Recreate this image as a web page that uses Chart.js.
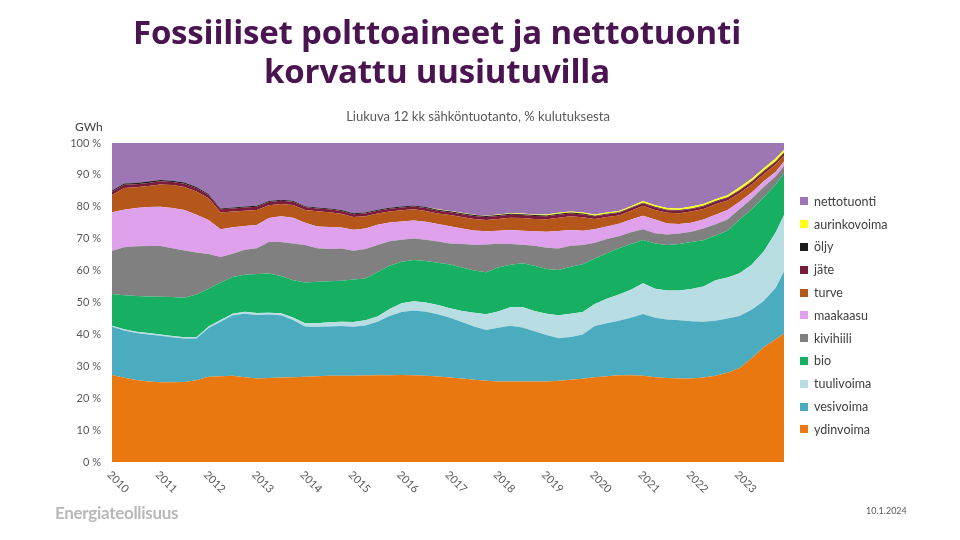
<!DOCTYPE html>
<html>
<head>
<meta charset="utf-8">
<script src="https://cdn.jsdelivr.net/npm/chart.js@4.4.1/dist/chart.umd.min.js"></script>
<style>
  html, body { margin: 0; padding: 0; background: #fff; }
  body { width: 960px; height: 540px; position: relative; overflow: hidden; font-family: Lato, "Open Sans", sans-serif; }
  #wrap { position: absolute; left: 0; top: 0; width: 960px; height: 540px; }
  .title { position: absolute; left: 0; width: 874px; top: 12px; text-align: center; color: #4a1450; font-family: "Open Sans", sans-serif; font-weight: 700; font-size: 33px; line-height: 39px; letter-spacing: -0.2px; }
  .subtitle { position: absolute; left: 0; width: 956px; top: 108px; text-align: center; color: #595959; font-size: 13px; }
  .unit { position: absolute; left: 75px; top: 119px; color: #404040; font-size: 12px; }
  .legend { position: absolute; left: 800px; top: 190px; }
  .legend div { height: 22.8px; font-size: 12.5px; color: #404040; display: flex; align-items: center; }
  .legend span { display: inline-block; width: 8px; height: 8px; margin-right: 6px; }
  .logo { position: absolute; left: 55px; top: 502px; color: #b8b8b8; font-weight: 700; font-size: 17px; letter-spacing: -0.3px; }
  .date { position: absolute; left: 866px; top: 505px; color: #595959; font-size: 9px; }
</style>
</head>
<body>
<div id="wrap"><canvas id="chart" width="960" height="540"></canvas></div>
<div class="title">Fossiiliset polttoaineet ja nettotuonti<br>korvattu uusiutuvilla</div>
<div class="subtitle">Liukuva 12 kk sähköntuotanto, % kulutuksesta</div>
<div class="unit">GWh</div>
<div class="legend" id="legend"></div>
<div class="logo">Energiateollisuus</div>
<div class="date">10.1.2024</div>
<script>
// neljännesvuosittaiset pisteet, % kulutuksesta
const aika = [
  2010, 2010.25, 2010.5, 2010.75, 2011, 2011.25, 2011.5, 2011.75,
  2012, 2012.25, 2012.5, 2012.75, 2013, 2013.25, 2013.5, 2013.75,
  2014, 2014.25, 2014.5, 2014.75, 2015, 2015.25, 2015.5, 2015.75,
  2016, 2016.25, 2016.5, 2016.75, 2017, 2017.25, 2017.5, 2017.75,
  2018, 2018.25, 2018.5, 2018.75, 2019, 2019.25, 2019.5, 2019.75,
  2020, 2020.25, 2020.5, 2020.75, 2021, 2021.25, 2021.5, 2021.75,
  2022, 2022.25, 2022.5, 2022.75, 2023, 2023.25, 2023.5, 2023.75, 2023.92
];
const vuodet = [2010, 2011, 2012, 2013, 2014, 2015, 2016, 2017, 2018, 2019, 2020, 2021, 2022, 2023];
const yTicks = [0, 10, 20, 30, 40, 50, 60, 70, 80, 90, 100];

const ydinvoima = [27.3, 26.4, 25.7, 25.2, 25.0, 25.0, 25.1, 25.6, 26.7, 26.9, 27.0, 26.6, 26.2, 26.3, 26.5, 26.6,
  26.7, 26.9, 27.0, 27.0, 27.0, 27.1, 27.2, 27.2, 27.3, 27.2, 27.0, 26.8, 26.5, 26.2, 25.8, 25.5,
  25.2, 25.2, 25.2, 25.2, 25.2, 25.5, 25.8, 26.1, 26.6, 26.9, 27.2, 27.2, 27.0, 26.6, 26.3, 26.2,
  26.2, 26.5, 27.0, 28.0, 29.5, 32.5, 36.0, 38.5, 40.3];
const vesivoima = [15.1, 14.8, 14.7, 14.8, 14.6, 14.1, 13.6, 13.1, 15.3, 17.1, 19.0, 19.9, 19.9, 19.9, 19.5, 17.9,
  15.8, 15.4, 15.5, 15.6, 15.4, 15.7, 16.8, 18.6, 19.7, 20.3, 20.1, 19.5, 18.7, 17.7, 16.7, 15.9,
  16.9, 17.5, 17.0, 15.8, 14.6, 13.3, 13.4, 13.9, 16.0, 16.6, 17.1, 18.0, 19.4, 18.6, 18.4, 18.2,
  17.9, 17.5, 17.3, 17.0, 16.3, 15.2, 14.5, 16.1, 19.4];
const tuulivoima = [0.3, 0.4, 0.4, 0.4, 0.4, 0.4, 0.4, 0.4, 0.5, 0.5, 0.5, 0.6, 0.6, 0.6, 0.6, 0.8,
  1.0, 1.2, 1.3, 1.4, 1.5, 1.6, 1.6, 2.2, 2.8, 2.9, 2.9, 2.9, 3.0, 3.4, 4.3, 4.9,
  5.1, 5.8, 6.4, 6.3, 6.7, 7.2, 7.3, 7.0, 6.9, 7.7, 8.2, 8.8, 9.6, 9.1, 9.1, 9.4,
  10.1, 11.0, 12.7, 12.8, 13.4, 14.1, 15.5, 17.4, 17.7];
const bio = [10.0, 10.7, 11.2, 11.5, 11.8, 12.2, 12.4, 13.4, 11.8, 11.8, 11.5, 11.6, 12.2, 12.3, 11.7, 11.7,
  12.8, 13.0, 12.9, 12.8, 13.3, 13.1, 14.0, 13.5, 13.0, 12.9, 13.0, 13.3, 13.7, 13.7, 13.2, 13.2,
  13.8, 13.3, 13.7, 14.2, 14.0, 14.2, 14.7, 15.0, 14.3, 14.2, 14.5, 14.3, 13.6, 14.2, 14.2, 14.5,
  14.8, 14.5, 14.0, 14.7, 16.8, 17.4, 17.0, 15.0, 13.1];
const kivihiili = [13.5, 15.0, 15.6, 15.8, 15.9, 15.3, 14.8, 13.2, 10.9, 8.0, 7.3, 7.8, 8.1, 9.9, 10.7, 11.5,
  11.7, 10.5, 10.1, 10.1, 9.0, 9.3, 8.4, 7.7, 6.9, 6.8, 6.7, 6.6, 6.6, 7.3, 8.1, 8.7,
  7.4, 6.5, 5.8, 6.3, 6.7, 6.7, 6.6, 6.0, 4.9, 4.5, 3.8, 3.7, 3.4, 3.2, 3.3, 3.3,
  3.2, 3.7, 3.5, 3.5, 3.3, 3.3, 3.2, 2.6, 2.3];
const maakaasu = [12.1, 11.8, 12.0, 12.2, 12.3, 12.6, 12.7, 11.8, 10.7, 8.7, 8.3, 7.5, 7.3, 7.5, 8.0, 8.1,
  7.0, 6.8, 6.9, 6.6, 6.6, 6.4, 6.4, 5.9, 5.7, 5.6, 5.6, 5.5, 5.4, 4.9, 4.5, 4.1,
  4.1, 4.4, 4.4, 4.5, 5.0, 5.5, 4.9, 4.5, 4.3, 3.9, 3.9, 4.0, 4.2, 4.3, 3.5, 3.0,
  2.8, 2.8, 3.0, 3.0, 2.3, 2.0, 1.8, 1.4, 1.4];
const turve = [5.4, 6.8, 6.5, 6.6, 7.0, 7.2, 7.2, 7.3, 6.8, 5.2, 4.9, 4.8, 4.7, 4.0, 3.9, 4.0,
  4.0, 4.8, 4.6, 4.3, 4.0, 3.8, 3.5, 3.4, 3.5, 3.5, 3.4, 3.3, 3.5, 3.6, 3.6, 3.6,
  3.7, 3.9, 4.0, 3.9, 3.9, 4.2, 4.3, 4.2, 3.2, 3.0, 2.6, 2.8, 3.1, 3.0, 3.3, 3.4,
  3.5, 3.3, 3.3, 3.0, 2.7, 2.5, 2.3, 2.3, 1.8];
const jate = [1.0, 1.0, 1.0, 1.0, 1.0, 1.0, 1.0, 1.0, 1.0, 1.0, 1.0, 1.0, 1.0, 1.0, 1.0, 1.0,
  0.9, 0.9, 0.9, 0.9, 0.9, 0.9, 0.9, 0.9, 0.9, 0.9, 0.9, 0.9, 0.9, 0.9, 0.9, 0.9,
  0.9, 0.9, 0.9, 0.9, 0.9, 0.9, 0.9, 0.9, 0.8, 0.8, 0.8, 0.8, 0.8, 0.8, 0.8, 0.8,
  0.8, 0.8, 0.8, 0.8, 0.8, 0.8, 0.8, 0.8, 0.8];
const oljy = [0.4, 0.4, 0.4, 0.4, 0.4, 0.4, 0.4, 0.4, 0.3, 0.3, 0.3, 0.3, 0.3, 0.3, 0.3, 0.3,
  0.3, 0.3, 0.3, 0.3, 0.3, 0.3, 0.3, 0.3, 0.3, 0.3, 0.3, 0.3, 0.3, 0.3, 0.3, 0.3,
  0.3, 0.3, 0.3, 0.3, 0.3, 0.3, 0.3, 0.3, 0.2, 0.2, 0.2, 0.2, 0.2, 0.2, 0.2, 0.2,
  0.2, 0.2, 0.2, 0.2, 0.2, 0.2, 0.2, 0.2, 0.2];
const aurinkovoima = [0, 0, 0, 0, 0, 0, 0, 0, 0, 0, 0, 0, 0, 0, 0, 0,
  0, 0, 0, 0, 0, 0, 0, 0, 0, 0, 0, 0.1, 0.1, 0.1, 0.1, 0.1,
  0.2, 0.2, 0.2, 0.2, 0.3, 0.3, 0.3, 0.3, 0.4, 0.4, 0.4, 0.4, 0.5, 0.5, 0.5, 0.5,
  0.6, 0.6, 0.6, 0.6, 0.8, 0.8, 0.8, 0.9, 0.9];
const nettotuonti = [14.9, 12.7, 12.5, 12.1, 11.6, 11.8, 12.4, 13.8, 16.0, 20.5, 20.2, 19.9, 19.7, 18.2, 17.8, 18.1,
  19.8, 20.2, 20.5, 21.0, 22.0, 21.8, 20.9, 20.3, 19.9, 19.6, 20.1, 20.8, 21.3, 21.9, 22.5, 22.8,
  22.4, 22.0, 22.1, 22.4, 22.4, 21.9, 21.5, 21.8, 22.4, 21.8, 21.3, 19.8, 18.2, 19.5, 20.4, 20.5,
  19.9, 19.1, 17.6, 16.4, 13.9, 11.2, 7.9, 4.8, 2.1];

// alhaalta ylös
const sarjat = [
  { nimi: 'ydinvoima', data: ydinvoima, vari: '#e8780f' },
  { nimi: 'vesivoima', data: vesivoima, vari: '#4bacbf' },
  { nimi: 'tuulivoima', data: tuulivoima, vari: '#b8dde2' },
  { nimi: 'bio', data: bio, vari: '#17b062' },
  { nimi: 'kivihiili', data: kivihiili, vari: '#808080' },
  { nimi: 'maakaasu', data: maakaasu, vari: '#dfa0ec' },
  { nimi: 'turve', data: turve, vari: '#b5561b' },
  { nimi: 'jäte', data: jate, vari: '#7a1a3c' },
  { nimi: 'öljy', data: oljy, vari: '#1c1c1c' },
  { nimi: 'aurinkovoima', data: aurinkovoima, vari: '#ffff1a' },
  { nimi: 'nettotuonti', data: nettotuonti, vari: '#9d77b4' }
];

const legend = document.getElementById('legend');
sarjat.slice().reverse().forEach(s => {
  const row = document.createElement('div');
  row.innerHTML = `<span style="background:${s.vari}"></span>${s.nimi}`;
  legend.appendChild(row);
});

// vinot vuosiluvut x-akselille
const vuosiPlugin = {
  id: 'vuosiLabels',
  afterDraw(chart) {
    const ctx = chart.ctx;
    const x = chart.scales.x;
    const top = chart.chartArea.bottom;
    ctx.save();
    ctx.fillStyle = '#595959';
    ctx.font = '11px Lato, "Open Sans", sans-serif';
    ctx.textBaseline = 'middle';
    vuodet.forEach(v => {
      const px = x.getPixelForValue(v);
      ctx.save();
      ctx.translate(px - 3, top + 11);
      ctx.rotate(Math.PI / 4);
      ctx.fillText(String(v), 0, 0);
      ctx.restore();
    });
    ctx.restore();
  }
};

new Chart(document.getElementById('chart'), {
  type: 'line',
  data: {
    datasets: sarjat.map((s, i) => ({
      label: s.nimi,
      data: s.data.map((v, j) => ({ x: aika[j], y: v })),
      backgroundColor: s.vari,
      borderColor: s.vari,
      borderWidth: 0,
      pointRadius: 0,
      tension: 0,
      fill: i === 0 ? 'origin' : '-1'
    }))
  },
  options: {
    responsive: false,
    animation: false,
    events: [],
    layout: { padding: { left: 52, top: 143, right: 176, bottom: 78 } },
    plugins: { legend: { display: false }, tooltip: { enabled: false } },
    scales: {
      x: {
        type: 'linear',
        min: 2010,
        max: 2023.92,
        grid: { display: false },
        border: { display: false },
        ticks: { display: false },
        afterFit(s) { s.height = 0; }
      },
      y: {
        stacked: true,
        min: 0,
        max: 100,
        afterBuildTicks(s) { s.ticks = yTicks.map(v => ({ value: v })); },
        afterFit(s) { s.width = 60; },
        grid: { display: false, drawTicks: false },
        border: { display: false },
        ticks: {
          padding: 11,
          color: '#595959',
          font: { family: 'Lato, "Open Sans", sans-serif', size: 11 },
          callback: v => v + ' %'
        }
      }
    }
  },
  plugins: [vuosiPlugin]
});
</script>
</body>
</html>
